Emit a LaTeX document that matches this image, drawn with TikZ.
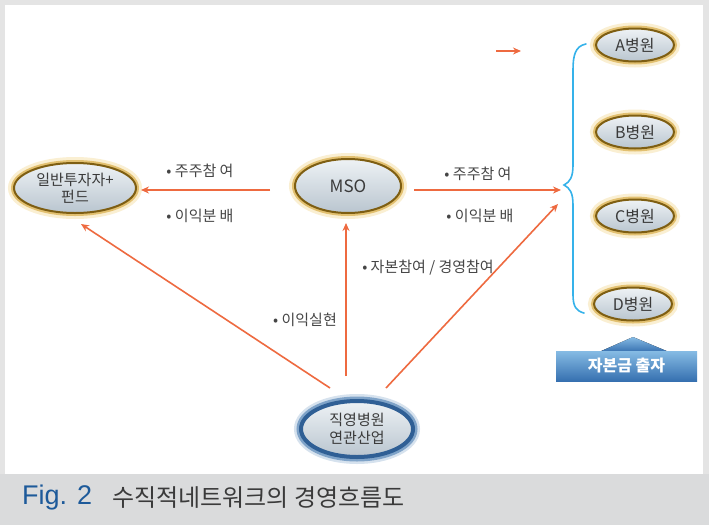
\documentclass[tikz,border=0pt]{standalone}
\usepackage{fontspec}
\setmainfont{Noto Sans CJK KR}
\newfontfamily\figfont{Liberation Sans}
\usetikzlibrary{arrows.meta,shapes.geometric,calc}
\definecolor{frame}{HTML}{E4E4E4}
\definecolor{band}{HTML}{DADBDC}
\definecolor{ring}{HTML}{7E5E12}
\definecolor{haloA}{HTML}{FAEFD2}
\definecolor{haloB}{HTML}{E2C070}
\definecolor{intop}{HTML}{EEF2F5}
\definecolor{inbot}{HTML}{B9C5CF}
\definecolor{bring}{HTML}{2F5F95}
\definecolor{bhaloA}{HTML}{D6E2EE}
\definecolor{bhaloB}{HTML}{7FA3C8}
\definecolor{orng}{HTML}{EE6A40}
\definecolor{brc}{HTML}{35B2EA}
\definecolor{txt}{HTML}{3A3A3A}
\definecolor{lbl}{HTML}{454545}
\definecolor{figblue}{HTML}{1D5A9A}
\definecolor{boxtop}{HTML}{86BBE4}
\definecolor{boxbot}{HTML}{3670B0}
\begin{document}
\begin{tikzpicture}[x=1pt,y=-1pt,
  goldnode/.style={ellipse, draw=ring, line width=2pt, top color=intop, bottom color=inbot,
    preaction={draw=haloA, line width=12pt}, preaction={draw=haloB, line width=6pt},
    inner sep=0pt, text=txt, align=center, font=\fontsize{15}{17}\selectfont},
  hosp/.style={goldnode, minimum width=78pt, minimum height=33pt, font=\fontsize{16}{18}\selectfont},
  bluenode/.style={ellipse, draw=bring, line width=4pt, top color=intop, bottom color=inbot,
    preaction={draw=bhaloA, line width=14pt}, preaction={draw=bhaloB, line width=9pt},
    inner sep=0pt, text=txt, align=center, font=\fontsize{15}{18}\selectfont},
  oarrow/.style={draw=orng, line width=1.6pt, -{Stealth[length=8pt,width=7pt]}},
  lab/.style={text=lbl, font=\fontsize{15}{17}\selectfont, inner sep=0pt},
  brace/.style={draw=brc, line width=1.6pt, line cap=round}]
\useasboundingbox (0,0) rectangle (709,525);
\fill[frame] (0,0) rectangle (709,525);
\fill[white] (5,5) rectangle (703,474);
\fill[band] (0,474) rectangle (709,525);

% nodes
\node[goldnode, minimum width=122pt, minimum height=50pt] (inv) at (75,188) {일반투자자+\\펀드};
\node[goldnode, minimum width=106pt, minimum height=54pt, font=\fontsize{17}{19}\selectfont] (mso) at (348,186) {MSO};
\node[hosp] (ha) at (635,45) {A병원};
\node[hosp] (hb) at (635,132) {B병원};
\node[hosp] (hc) at (635,216) {C병원};
\node[hosp] (hd) at (633,304) {D병원};
\node[bluenode, minimum width=112pt, minimum height=56pt] (jk) at (357,429) {직영병원\\연관산업};

% brace
\draw[brace] (586,44) .. controls (575,46) and (573,56) .. (573,70) -- (573,165)
  .. controls (573,177) and (570,182) .. (564,185)
  .. controls (570,188) and (573,193) .. (573,205) -- (573,295)
  .. controls (573,306) and (576,311) .. (584,313);
\coordinate (bt) at (561,190);
\coordinate (bb) at (558,204);

% legend arrow
\coordinate (la) at (496,51);
\coordinate (lb) at (521,51);
\draw[oarrow] (la) -- (lb);

% connectors
\draw[oarrow] ([shift={(-24,4)}]mso.west) -- ([shift={(4,2)}]inv.east);
\draw[oarrow] ([shift={(12,4)}]mso.east) -- (bt);
\draw[oarrow] ([shift={(-27,-11)}]jk.north) -- ([shift={(6,10)}]inv.south);
\draw[oarrow] ([shift={(-11,-23)}]jk.north) -- ([shift={(-2,9)}]mso.south);
\draw[oarrow] ([shift={(29,-11)}]jk.north) -- (bb);

% labels
\node[lab] (l1) at (200,171) {• 주주참 여};
\node[lab] (l2) at (200,216) {• 이익분 배};
\node[lab] (l3) at (478,174) {• 주주참 여};
\node[lab] (l4) at (480,216) {• 이익분 배};
\node[lab] (l5) at (305,320) {• 이익실현};
\node[lab] (l6) at (428,268) {• 자본참여 / 경영참여};

% capital box
\fill[top color=boxtop, bottom color=boxbot] (599,352) -- (633,337) -- (669,352) -- cycle;
\node[rectangle, top color=boxtop, bottom color=boxbot, minimum width=141pt, minimum height=30pt,
  inner sep=0pt, text=white, font=\bfseries\fontsize{16}{18}\selectfont] (cap) at (626.5,366) {자본금 출자};

% caption
\node[anchor=west, inner sep=0pt, text=figblue, font=\figfont\fontsize{27}{29}\selectfont] (fig) at (22,498) {Fig. 2};
\node[anchor=west, inner sep=0pt, text=txt, font=\fontsize{24}{26}\selectfont] (cap2) at (112,498) {수직적네트워크의 경영흐름도};
\end{tikzpicture}
\end{document}
